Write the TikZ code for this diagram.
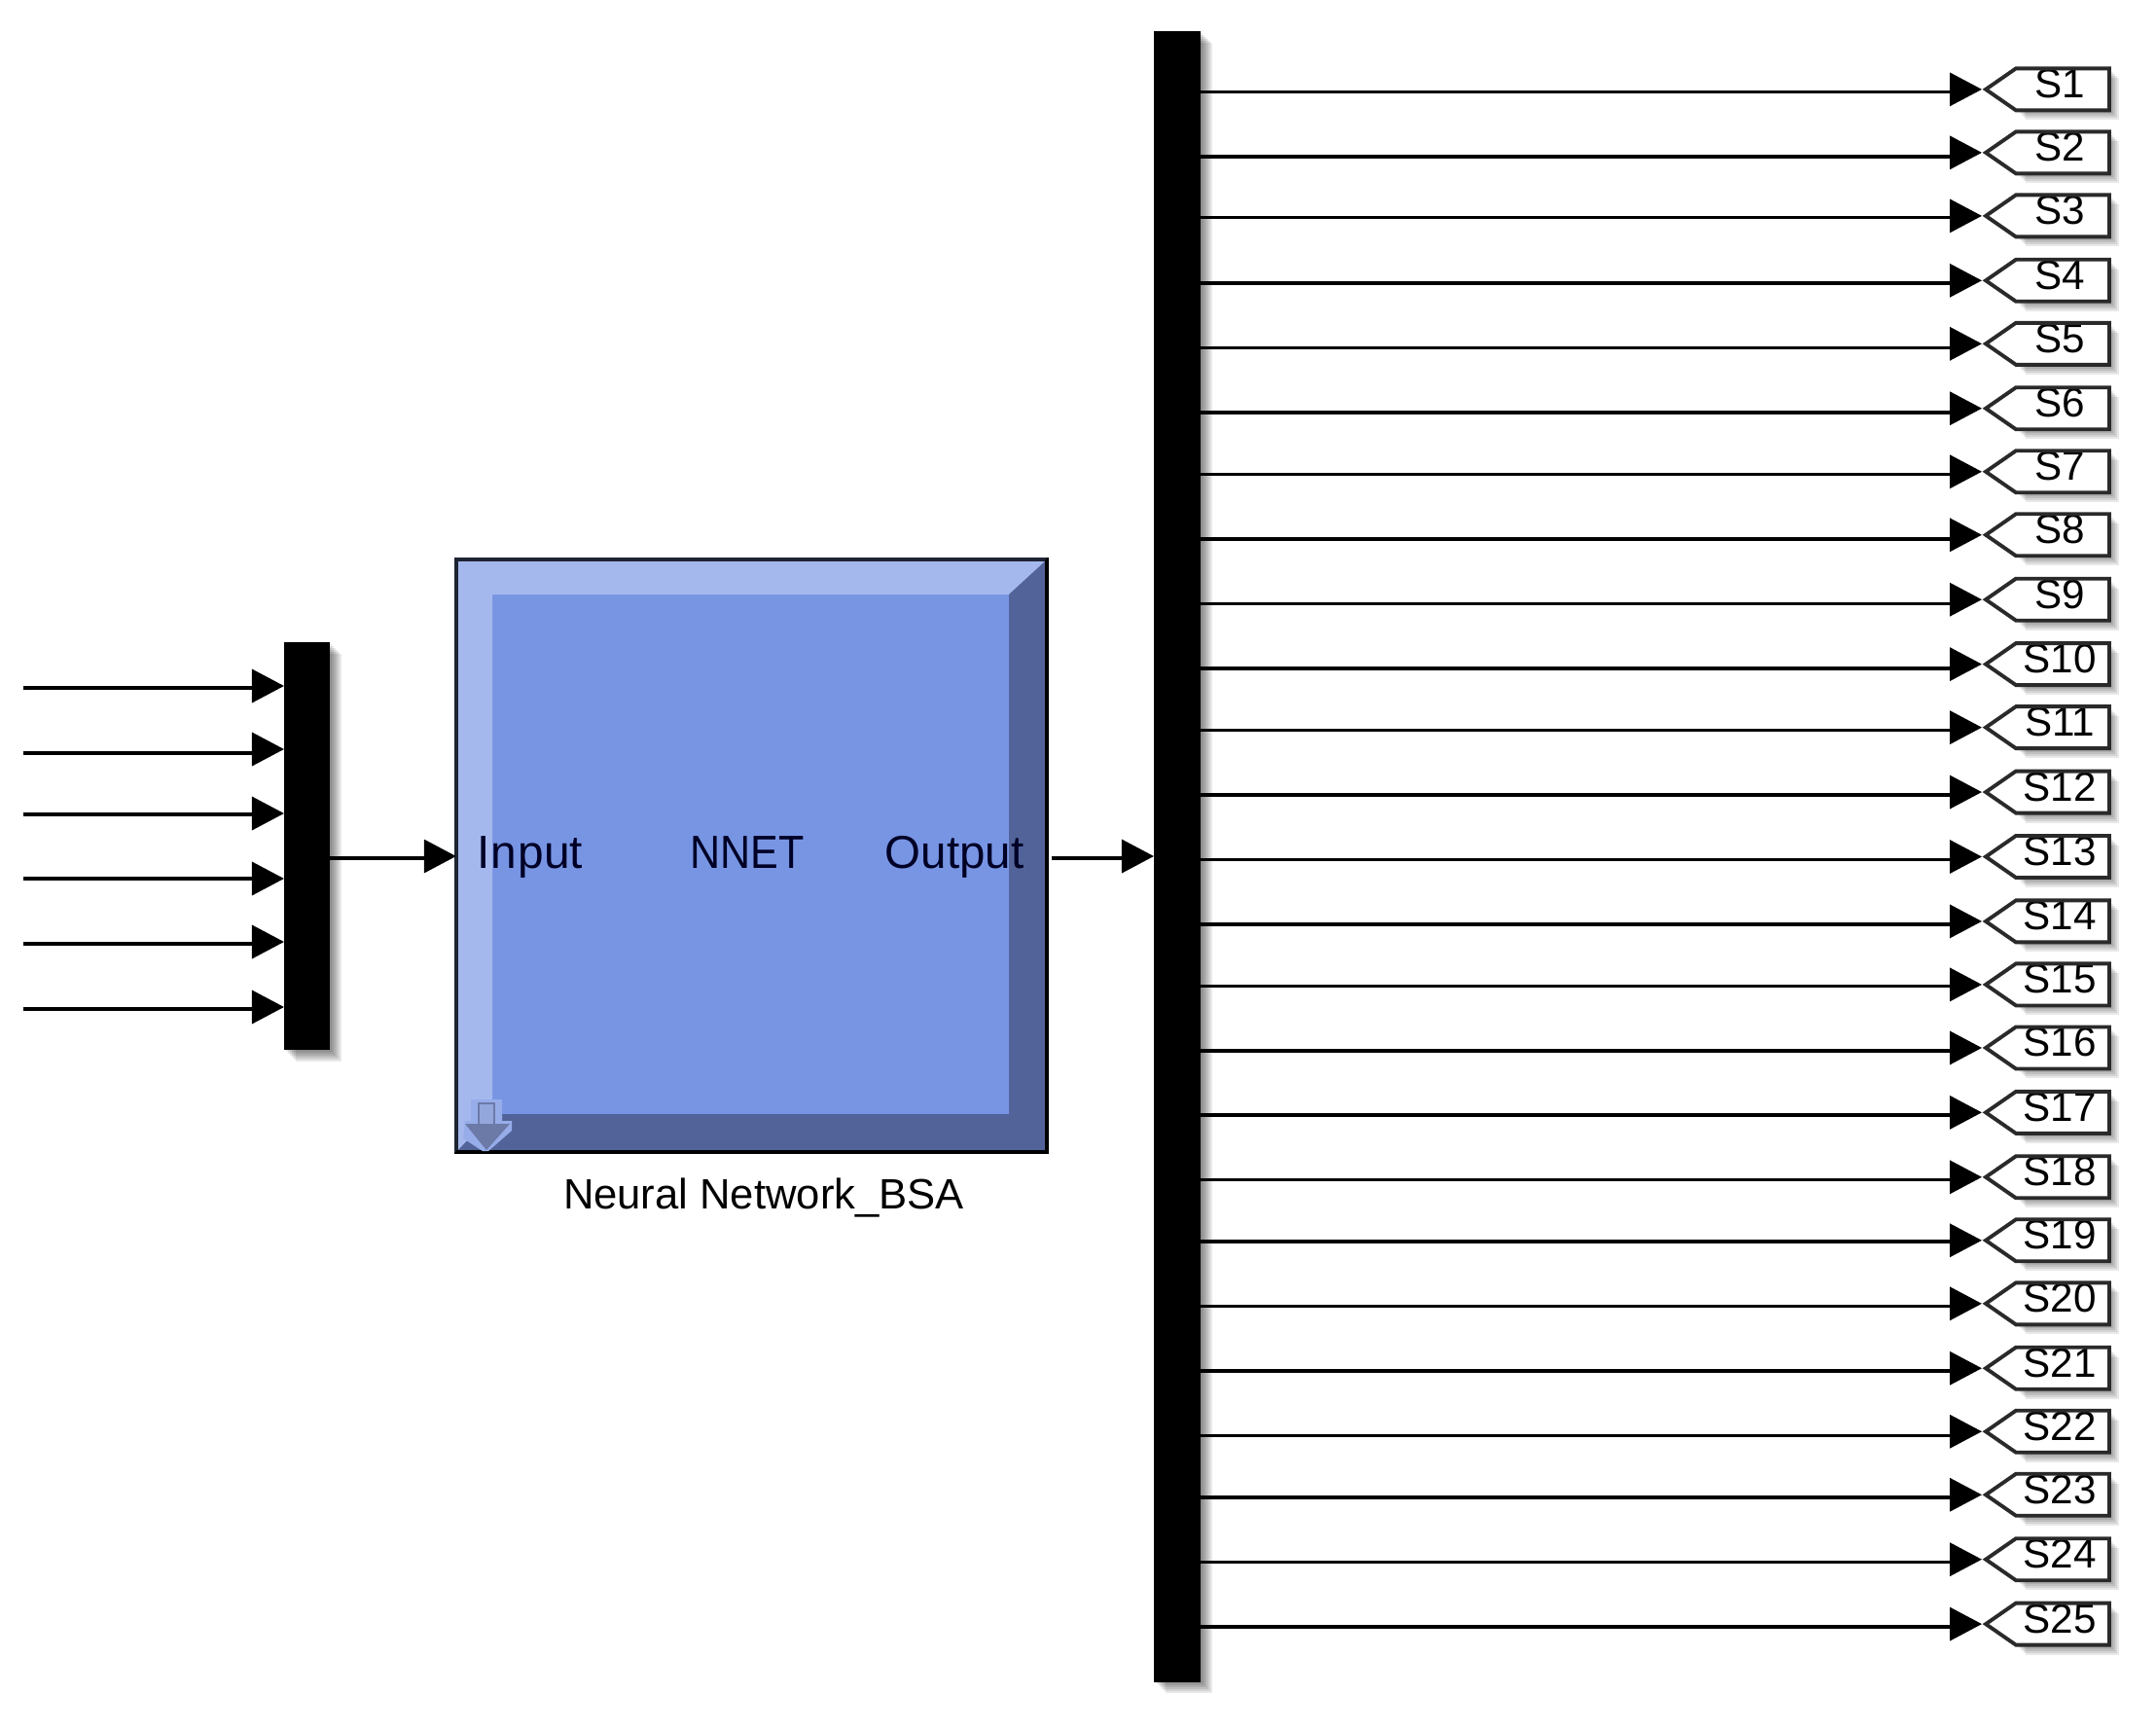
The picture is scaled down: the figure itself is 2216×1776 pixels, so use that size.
\documentclass[tikz,border=0pt]{standalone}
\usepackage{fontspec}
\setmainfont{Liberation Sans}
\usetikzlibrary{arrows.meta,calc}
\definecolor{blockmid}{HTML}{7895E4}
\definecolor{blocklight}{HTML}{A5B8ED}
\definecolor{blockdark}{HTML}{526399}
\definecolor{blockedge}{HTML}{1E2433}
\definecolor{tagedge}{HTML}{2A2A2A}
\tikzset{
  x=0.01cm,y=-0.01cm,
  wire/.style={line width=1pt,black},
  tipped/.style={wire,-{Triangle[length=3.3mm,width=3.4mm]}},
  barbox/.style={fill=black,draw=none,inner sep=0pt,outer sep=0pt},
  blockbox/.style={rectangle,fill=blockmid,draw=black,line width=0.8pt,inner sep=0pt,outer sep=0pt,minimum width=6.07cm,minimum height=6.09cm},
  blocktext/.style={inner sep=0pt,text=black!85!blue,anchor=base},
  taglabel/.style={inner sep=0pt,anchor=base,font=\fontsize{12}{14}\selectfont},
  tagline/.style={draw=tagedge,line width=1.1pt,line join=miter},
  softshadow/.style={fill=black,fill opacity=0.09,draw=none}
}
\newcommand{\softrect}[4]{%
  \foreach \k in {2,4,6,8,10,12}{\fill[softshadow] (#1+\k,#2+\k) rectangle (#3+\k,#4+\k);}}
\begin{document}
\begin{tikzpicture}
\useasboundingbox (0,0) rectangle (2216,1776);
\fill[white] (0,0) rectangle (2216,1776);
% shadows of the bars
\softrect{292}{660}{339}{1079}
\softrect{1186}{32}{1234}{1728}
\node[barbox,minimum width=0.47cm,minimum height=4.19cm] (mux) at (315.5,869.5) {};
\node[barbox,minimum width=0.48cm,minimum height=16.96cm] (demux) at (1210,880) {};
% block
\node[blockbox] (nnet) at (772.5,879.5) {};
\fill[blocklight] (471,577) -- (1074,577) -- (1037,611) -- (506,611) -- (506,1145) -- (471,1182) -- cycle;
\fill[blockdark] (1074,577) -- (1074,1182) -- (471,1182) -- (506,1145) -- (1037,1145) -- (1037,611) -- cycle;
\draw[blockedge,line width=1.1pt] (469,1184) -- (469,575) -- (1076,575);
\draw[black,line width=0.9pt] (1076,575) -- (1076,1184) -- (469,1184);
% sub-system icon
\fill[blocklight!70!blockmid] (484,1130) -- (516,1130) -- (516,1152) -- (526,1152) -- (526,1162) -- (502,1183) -- (496,1183) -- (476,1170) -- (478,1152) -- (484,1152) -- cycle;
\fill[blockdark!85!white] (478,1155) -- (524,1155) -- (500,1182) -- cycle;
\fill[blocklight!80!blockdark,draw=blockdark!85!white,line width=0.6pt] (492,1134) rectangle (508,1156);
\node[blocktext,font=\fontsize{13.6}{16}\selectfont] (inlab) at (545,892) {In\hspace{0.6pt}put};
\node[blocktext,font=\fontsize{13.6}{16}\selectfont,xscale=0.9,transform shape] (nnlab) at (768,892) {NNET};
\node[blocktext,font=\fontsize{13.5}{16}\selectfont] (outlab) at (981,892) {Output};
\node[blocktext,font=\fontsize{12.4}{15}\selectfont,text=black] (cap) at (785,1242) {Neural Network\_BSA};
% inputs of the left bar
\foreach \i/\yl/\yh in {1/707/705,2/774/770,3/837/836,4/903/903,5/970/968,6/1037/1035}{
  \coordinate (in\i) at (24,\yl);
  \draw[tipped] (in\i) -- (262,\yl) (262,\yh) -- (mux.west |- 262,\yh);
}
% bar to block, block to bar
\draw[tipped] (mux.east |- 0,882) -- (436,882) (436,880) -- (nnet.west |- 0,880);
\coordinate (outstart) at (1081,882);
\draw[tipped] (outstart) -- (1156,882) (1156,880) -- (demux.west |- 0,880);
% outputs
\foreach \n/\yl/\yh in {1/67/65,2/114/111,3/158/157,4/206/204,5/253/250,6/300/297,7/345/343,8/392/389,9/439/436,10/486/483,11/531/529,12/578/576,13/625/623,14/672/670,15/717/716,16/764/762,17/811/809,18/858/856,19/903/902,20/950/948,21/997/995,22/1044/1041,23/1089/1087,24/1136/1134,25/1183/1181}{
  \pgfmathsetmacro{\ly}{\yl*1.4133}
  \pgfmathsetmacro{\hy}{\yh*1.4133}
  \pgfmathsetmacro{\tt}{\hy-21.5}
  \pgfmathsetmacro{\tb}{\hy+21.5}
  \foreach \k in {2,4,6,8,10}{\fill[softshadow] (2072+\k,\tt+\k) -- (2168+\k,\tt+\k) -- (2168+\k,\tb+\k) -- (2072+\k,\tb+\k) -- cycle;}
  \fill[white] (2041,\hy) -- (2072,\tt) -- (2168,\tt) -- (2168,\tb) -- (2072,\tb) -- cycle;
  \node[taglabel] (tag\n) at (2117,\hy+9) {S\n};
  \draw[tagline] (2041,\hy) -- (2072,\tt) -- (2168,\tt) -- (2168,\tb) -- (2072,\tb) -- cycle;
  \coordinate (tagtip\n) at (2037,\hy);
  \draw[tipped] (demux.east |- 0,\ly) -- (2006,\ly) (2006,\hy) -- (tagtip\n);
}
\end{tikzpicture}
\end{document}
